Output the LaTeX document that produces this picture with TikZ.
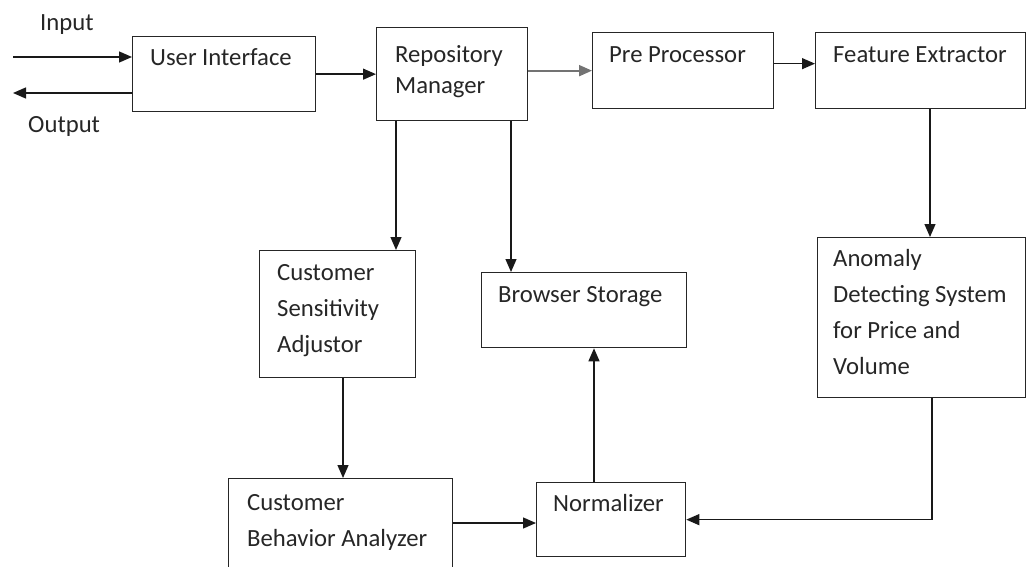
\documentclass[tikz,border=0pt]{standalone}
\usepackage{fontspec}
\setmainfont{Carlito}
\usetikzlibrary{arrows.meta}
\begin{document}
\begin{tikzpicture}[x=1pt,y=-1pt,
  box/.style={draw=black!85, line width=1.3pt, inner sep=0pt, anchor=north west},
  lbl/.style={inner sep=0pt, anchor=base west, align=left, font=\fontsize{24.7}{36}\selectfont, text=black!85},
  arr/.style={line width=1.3pt, draw=black!90, -{Triangle[length=13pt,width=11pt]}}]
\useasboundingbox (0,0) rectangle (1026,567);
\clip (0,0) rectangle (1026,567);
% boxes
\node[box, minimum width=183pt, minimum height=75pt] (ui) at (132,36) {};
\node[box, minimum width=151pt, minimum height=93pt] (repo) at (376,27) {};
\node[box, minimum width=181pt, minimum height=76pt] (pre) at (592,32) {};
\node[box, minimum width=210pt, minimum height=76pt] (feat) at (815,32) {};
\node[box, minimum width=156pt, minimum height=127pt] (csa) at (259,250) {};
\node[box, minimum width=205pt, minimum height=75pt] (bs) at (481,272) {};
\node[box, minimum width=208pt, minimum height=160pt] (anom) at (817,237) {};
\node[box, minimum width=224pt, minimum height=120pt] (beh) at (228,478) {};
\node[box, minimum width=149pt, minimum height=74pt] (norm) at (536,482) {};
% labels (anchor = baseline of last line)
\node[lbl] (tin) at (40,31) {Input};
\node[lbl] (tout) at (28,133) {Output};
\node[lbl] (tui) at (150,66) {User Interface};
\node[lbl] (trepo) at (395,94) {Repository\\[-5pt]Manager};
\node[lbl] (tpre) at (609,63) {Pre Processor};
\node[lbl] (tfeat) at (833,63) {Feature Extractor};
\node[lbl] (tcsa) at (277,352) {Customer\\Sensitivity\\Adjustor};
\node[lbl] (tbs) at (498,302) {Browser Storage};
\node[lbl] (tanom) at (833,374) {Anomaly\\Detecting System\\for Price and\\Volume};
\node[lbl] (tbeh) at (247,546) {Customer\\Behavior Analyzer};
\node[lbl] (tnorm) at (553,511) {Normalizer};
% helper coordinates
\coordinate (inS) at (13,57);
\coordinate (outE) at (13,93);
\coordinate (x396) at (396,0);
\coordinate (x511) at (511,0);
\coordinate (x930) at (930,0);
\coordinate (x932) at (932,0);
\coordinate (x343) at (343,0);
\coordinate (x594) at (594,0);
\coordinate (yb) at (0,523);
% connectors
\draw[arr] (inS) -- (inS -| ui.west);
\draw[arr] (outE -| ui.west) -- (outE);
\draw[arr] (ui.east) -- (ui.east -| repo.west);
\draw[arr, draw=black!55, line width=2pt] (pre.west -| repo.east) -- (pre.west);
\draw[arr] ([yshift=7pt]pre.east) -- ([yshift=7pt]feat.west);
\draw[arr] (repo.south -| x396) -- (csa.north -| x396);
\draw[arr] (repo.south -| x511) -- (bs.north -| x511);
\draw[arr] (feat.south -| x930) -- (anom.north -| x930);
\draw[arr] (anom.south -| x932) |- (norm.east);
\draw[arr] (csa.south -| x343) -- (beh.north -| x343);
\draw[arr] (beh.east |- yb) -- (norm.west |- yb);
\draw[arr] (norm.north -| x594) -- (bs.south -| x594);
\end{tikzpicture}
\end{document}
